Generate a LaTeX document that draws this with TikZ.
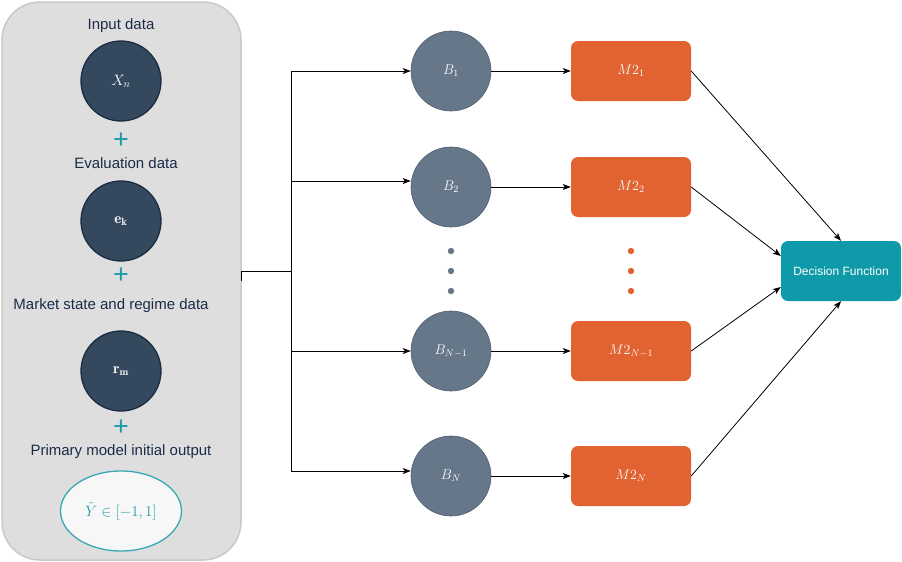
\RequirePackage{fix-cm}
\documentclass[tikz,border=0pt]{standalone}
\usepackage{amsmath}
\usepackage{amssymb}
\usepackage{fontspec}
\newfontfamily\labfont{Liberation Sans}
\usetikzlibrary{arrows.meta,shapes.geometric}
\definecolor{panelfill}{HTML}{DEDEDE}
\definecolor{paneldraw}{HTML}{C9C9C9}
\definecolor{navy}{HTML}{34495E}
\definecolor{navyline}{HTML}{1C2B40}
\definecolor{navytext}{HTML}{1B2B48}
\definecolor{tealplus}{HTML}{1F9BA6}
\definecolor{ellline}{HTML}{3AA8B4}
\definecolor{bfill}{HTML}{67778A}
\definecolor{bline}{HTML}{4E5E73}
\definecolor{mfill}{HTML}{E06331}
\definecolor{dffill}{HTML}{0E9AA8}
\begin{document}
\begin{tikzpicture}[x=1pt,y=-1pt,
  lab/.style={font=\labfont\fontsize{15}{18}\selectfont,text=navytext},
  plus/.style={font=\labfont\fontsize{27}{27}\selectfont,text=tealplus},
  datanode/.style={circle,minimum size=80pt,inner sep=0pt,fill=navy,draw=navyline,line width=1.3pt,text=white,font=\fontsize{15}{15}\selectfont},
  bnode/.style={circle,minimum size=80pt,inner sep=0pt,fill=bfill,draw=bline,line width=0.6pt,text=white,font=\fontsize{14}{14}\selectfont},
  mnode/.style={rectangle,rounded corners=7pt,minimum width=120pt,minimum height=60pt,inner sep=0pt,fill=mfill,text=white,font=\fontsize{14}{14}\selectfont},
  arr/.style={-{Stealth[length=8pt,width=6pt,inset=2pt]},line width=0.8pt}]
\useasboundingbox (0,0) rectangle (902,562);
% left panel
\node[draw=paneldraw,fill=panelfill,line width=1.5pt,rounded corners=38pt,minimum width=239pt,minimum height=558pt,inner sep=0pt] (panel) at (121.5,281) {};
\node[lab] (inlab) at (121,26) {Input data};
\node[datanode] (xn) at (121,81) {$X_n$};
\node[plus] (p1) at (121,141) {+};
\node[lab] (evlab) at (126,163) {Evaluation data};
\node[datanode] (ek) at (121,221) {$\mathbf{e_k}$};
\node[plus] (p2) at (121,276) {+};
\node[lab] (mklab) at (111,306) {Market state and regime data};
\node[datanode] (rm) at (121,371) {$\mathbf{r_m}$};
\node[plus] (p3) at (121,428) {+};
\node[lab] (prlab) at (121,452) {Primary model initial output};
\node[ellipse,minimum width=121pt,minimum height=80pt,inner sep=0pt,fill=white!97!black,draw=ellline,line width=1.3pt,text=tealplus,font=\fontsize{15}{15}\selectfont] (yt) at (121,511) {$\tilde{Y}\in[-1,1]$\hspace{14pt}};
% base models
\node[bnode] (b1) at (451,71) {$B_1$};
\node[bnode] (b2) at (451,187) {$B_2$};
\node[bnode] (bn1) at (451,351) {$B_{N-1}$};
\node[bnode] (bn) at (451,476) {$B_N$};
\node[mnode] (m1) at (631,71) {$M2_1$};
\node[mnode] (m2) at (631,187) {$M2_2$};
\node[mnode] (mn1) at (631,351) {$M2_{N-1}$};
\node[mnode] (mn) at (631,476) {$M2_N$};
\foreach \y in {251,271,291} {
  \fill[bfill] (451,\y) circle (3.2pt);
  \fill[mfill] (631,\y) circle (3.2pt);
}
\node[rectangle,rounded corners=7pt,minimum width=120pt,minimum height=60pt,inner sep=0pt,fill=dffill,text=white,font=\labfont\fontsize{12}{12}\selectfont] (df) at (841,271) {Decision Function};
% connectors
\coordinate (hub) at (291,271);
\draw[line width=0.8pt] (panel.east) |- (hub);
\draw[line width=0.8pt] (hub) -- (291,71);
\draw[line width=0.8pt] (hub) -- (291,471);
\draw[arr] (hub) |- (b1.west);
\draw[arr] (hub) |- ([yshift=6pt]b2.west);
\draw[arr] (hub) |- (bn1.west);
\draw[arr] (hub) |- ([yshift=5pt]bn.west);
\draw[arr] (b1) -- (m1);
\draw[arr] (b2) -- (m2);
\draw[arr] (bn1) -- (mn1);
\draw[arr] (bn) -- (mn);
\draw[arr] (m1.east) -- (df.north);
\draw[arr] (m2.east) -- ([yshift=15pt]df.west);
\draw[arr] (mn1.east) -- ([yshift=-16pt]df.west);
\draw[arr] (mn.east) -- (df.south);
\end{tikzpicture}
\end{document}
